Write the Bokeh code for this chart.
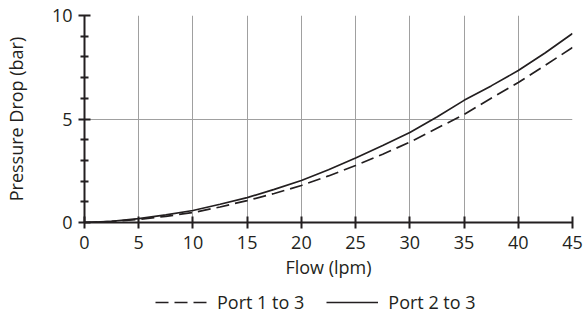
from bokeh.plotting import figure
from bokeh.layouts import column
from bokeh.embed import file_html
from bokeh.resources import INLINE
from bokeh.models import Legend, LegendItem, FixedTicker, ColumnDataSource, Range1d

flow = [0, 2.5, 5, 7.5, 10, 12.5, 15, 17.5, 20, 22.5, 25, 27.5, 30, 32.5, 35, 37.5, 40, 42.5, 45]
port_1_to_3 = [0.0, 0.05, 0.15, 0.3, 0.48, 0.75, 1.06, 1.4, 1.79, 2.25, 2.75, 3.3, 3.88, 4.55, 5.22, 6.0, 6.76, 7.6, 8.45]
port_2_to_3 = [0.0, 0.06, 0.19, 0.37, 0.58, 0.88, 1.2, 1.6, 2.03, 2.55, 3.12, 3.72, 4.35, 5.1, 5.9, 6.6, 7.34, 8.2, 9.13]
series_names = ["Port 1 to 3", "Port 2 to 3"]

x_ticks = [0, 5, 10, 15, 20, 25, 30, 35, 40, 45]
y_ticks = [0, 5, 10]

FONT = "Open Sans"
FS = "18px"
INK = "#231f20"
DASH = "13 6"

src = ColumnDataSource(dict(flow=flow, p13=port_1_to_3, p23=port_2_to_3))

p = figure(width=584, height=288, x_range=(0, 45), y_range=(0, 10),
           output_backend="svg", toolbar_location=None,
           min_border_left=83, min_border_right=12, min_border_top=15, min_border_bottom=66)
p.outline_line_color = None
p.background_fill_color = "white"
p.border_fill_color = "white"

p.line("flow", "p13", source=src, line_color=INK, line_width=1.7, line_dash=DASH)
p.line("flow", "p23", source=src, line_color=INK, line_width=1.7)

for ax in (p.xaxis[0], p.yaxis[0]):
    ax.axis_line_color = INK
    ax.axis_line_width = 2
    ax.major_tick_line_color = INK
    ax.major_tick_line_width = 2
    ax.major_tick_in = 6
    ax.major_tick_out = 6
    ax.major_label_text_font = FONT
    ax.major_label_text_font_size = FS
    ax.major_label_text_color = INK
    ax.axis_label_text_font = FONT
    ax.axis_label_text_font_size = FS
    ax.axis_label_text_font_style = "normal"
    ax.axis_label_text_color = INK

p.xaxis.ticker = FixedTicker(ticks=x_ticks)
p.xaxis.minor_tick_line_color = None
p.xaxis.axis_label = "Flow (lpm)"
p.xaxis.major_label_standoff = 7
p.xaxis.axis_label_standoff = 3

p.yaxis.ticker = FixedTicker(ticks=y_ticks, minor_ticks=[1, 2, 3, 4, 6, 7, 8, 9])
p.yaxis.minor_tick_line_color = INK
p.yaxis.minor_tick_line_width = 2
p.yaxis.minor_tick_in = 4
p.yaxis.minor_tick_out = 4
p.yaxis.axis_label = "Pressure Drop (bar)"
p.yaxis.major_label_standoff = 6
p.yaxis.axis_label_standoff = 21

p.xgrid.ticker = FixedTicker(ticks=x_ticks)
p.ygrid.ticker = FixedTicker(ticks=y_ticks)
for g in (p.xgrid[0], p.ygrid[0]):
    g.grid_line_color = "#a0a0a0"
    g.grid_line_width = 1

# legend-only strip below the chart (series drawn outside its visible range)
q = figure(width=584, height=25, x_range=Range1d(0, 45), y_range=Range1d(100, 101),
           output_backend="svg", toolbar_location=None,
           min_border_left=0, min_border_right=0, min_border_top=0, min_border_bottom=0)
q.axis.visible = False
q.grid.visible = False
q.outline_line_color = None
q.background_fill_color = "white"
l1 = q.line("flow", "p13", source=src, line_color=INK, line_width=1.7, line_dash=DASH)
l2 = q.line("flow", "p23", source=src, line_color=INK, line_width=1.7)

legend = Legend(items=[LegendItem(label=series_names[0], renderers=[l1]),
                       LegendItem(label=series_names[1], renderers=[l2])],
                orientation="horizontal", location=(71, -1),
                border_line_color=None, background_fill_alpha=0,
                label_text_font=FONT, label_text_font_size=FS, label_text_color=INK,
                glyph_width=52, glyph_height=14, spacing=22, label_standoff=10,
                padding=0, margin=0)
q.add_layout(legend, "center")

open("out.html", "w").write(file_html(column(p, q, spacing=0), INLINE))
